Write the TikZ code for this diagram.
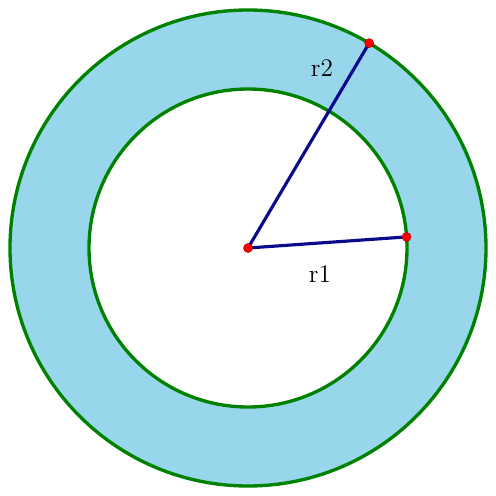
\documentclass[tikz,border=0pt]{standalone}
\usepackage{tikz}
\usetikzlibrary{calc}
\definecolor{ringblue}{RGB}{152,214,236}
\definecolor{ringgreen}{RGB}{0,130,0}
\definecolor{radnavy}{RGB}{10,10,140}

\begin{document}
\begin{tikzpicture}[
  font=\Large,
  ring/.style={draw=ringgreen,line width=1.9pt},
  radius line/.style={draw=radnavy,line width=1.8pt},
  dot/.style={circle,fill=red,draw=red!70!black,line width=0.3pt,inner sep=0pt,minimum size=0.18cm},
]
\useasboundingbox (-4.96,-4.96) rectangle (4.96,4.96);
\fill[ringblue,even odd rule] (0,0) circle (4.76) (0,0) circle (3.18);
\draw[ring] (0,0) circle (4.76);
\draw[ring] (0,0) circle (3.18);
\coordinate (c) at (0,0);
\coordinate (p1) at (4:3.18);
\coordinate (p2) at (59.4:4.76);
\draw[radius line] (c) -- (p1);
\draw[radius line] (c) -- (p2);
\node[dot] (cdot) at (c) {};
\node[dot] (p1dot) at (p1) {};
\node[dot] (p2dot) at (p2) {};
\node (r1) at (1.44,-0.52) {r1};
\node (r2) at (1.48,3.6) {r2};
\end{tikzpicture}
\end{document}
